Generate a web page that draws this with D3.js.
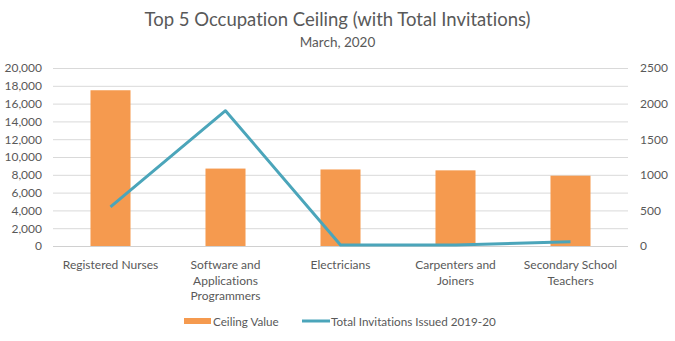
<!DOCTYPE html>
<html><head><meta charset="utf-8">
<script src="https://cdn.jsdelivr.net/npm/d3@7"></script>
<style>body{margin:0;background:#fff;} svg{display:block;} text{font-variant-ligatures:none;font-feature-settings:"liga" 0;}</style>
</head><body>
<svg id="c" width="675" height="341"></svg>
<script>
const categories = [["Registered Nurses"],["Software and","Applications","Programmers"],["Electricians"],["Carpenters and","Joiners"],["Secondary School","Teachers"]];
const ceilingValues = [17500, 8700, 8600, 8500, 7900];
const invitations = [550, 1900, 15, 15, 60];
const leftTicks = [0,2000,4000,6000,8000,10000,12000,14000,16000,18000,20000];
const rightTicks = [0,500,1000,1500,2000,2500];
const seriesNames = ["Ceiling Value","Total Invitations Issued 2019-20"];

const svg = d3.select("#c");
const font = "Lato, 'Open Sans', sans-serif";
const txt = "#595959";
const m = {l:53, r:628, t:68, b:246};
const x = d3.scaleBand().domain(d3.range(categories.length)).range([m.l, m.r]).paddingInner(0.652).paddingOuter(0.326);
const yL = d3.scaleLinear().domain([0,20000]).range([m.b, m.t]);
const yR = d3.scaleLinear().domain([0,2500]).range([m.b, m.t]);

// title
svg.append("text").attr("x",337.5).attr("y",26).attr("text-anchor","middle").attr("font-family",font).attr("font-size",18.5).attr("fill",txt).text("Top 5 Occupation Ceiling (with Total Invitations)");
svg.append("text").attr("x",337.5).attr("y",47).attr("text-anchor","middle").attr("font-family",font).attr("font-size",13.5).attr("fill",txt).text("March, 2020");

// gridlines
svg.append("g").selectAll("line").data(leftTicks).join("line")
  .attr("x1",m.l).attr("x2",m.r).attr("y1",d=>yL(d)+0.5).attr("y2",d=>yL(d)+0.5)
  .attr("stroke",d=>d===0?"#d0d0d0":"#d9d9d9").attr("stroke-width",1);

// left axis
const gl = svg.append("g").attr("transform",`translate(${m.l},0)`)
  .call(d3.axisLeft(yL).tickValues(leftTicks).tickSize(0).tickPadding(11).tickFormat(d3.format(",")));
gl.select(".domain").remove();
gl.selectAll("text").attr("font-family",font).attr("font-size",12).attr("fill",txt);

// right axis
const gr = svg.append("g").attr("transform",`translate(${m.r},0)`)
  .call(d3.axisRight(yR).tickValues(rightTicks).tickSize(0).tickPadding(12).tickFormat(d3.format("d")));
gr.select(".domain").remove();
gr.selectAll("text").attr("font-family",font).attr("font-size",12).attr("fill",txt);

// bars
svg.append("g").selectAll("rect").data(ceilingValues).join("rect")
  .attr("x",(d,i)=>x(i)).attr("width",x.bandwidth())
  .attr("y",d=>yL(d)).attr("height",d=>yL(0)-yL(d)).attr("fill","#F59A4F");

// line
const line = d3.line().x((d,i)=>x(i)+x.bandwidth()/2).y(d=>yR(d));
svg.append("path").datum(invitations).attr("d",line).attr("fill","none")
  .attr("stroke","#4BA5BA").attr("stroke-width",3).attr("stroke-linejoin","round");

// x labels
const xl = svg.append("g");
categories.forEach((lines,i)=>{
  const t = xl.append("text").attr("x",x(i)+x.bandwidth()/2).attr("y",269)
    .attr("text-anchor","middle").attr("font-family",font).attr("font-size",12).attr("fill",txt);
  lines.forEach((s,j)=>t.append("tspan").attr("x",x(i)+x.bandwidth()/2).attr("dy",j?15.5:0).text(s));
});

// legend
const lg = svg.append("g");
lg.append("rect").attr("x",184).attr("y",318).attr("width",27).attr("height",6).attr("fill","#F59A4F");
lg.append("text").attr("x",213).attr("y",325.5).attr("font-family",font).attr("font-size",11.7).attr("fill",txt).text(seriesNames[0]);
lg.append("line").attr("x1",302).attr("x2",330).attr("y1",321).attr("y2",321).attr("stroke","#4BA5BA").attr("stroke-width",3);
lg.append("text").attr("x",331).attr("y",325.5).attr("font-family",font).attr("font-size",11.7).attr("fill",txt).text(seriesNames[1]);
</script>
</body></html>
